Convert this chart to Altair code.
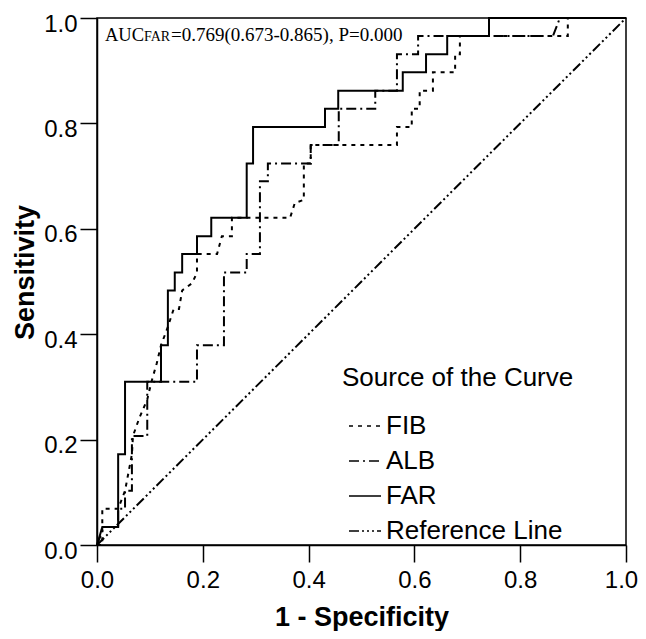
import altair as alt
import pandas as pd

# ---- data ----
series = ["FIB", "ALB", "FAR", "Reference Line"]

fib_x = [0, 0.01, 0.01, 0.04, 0.053, 0.066, 0.068, 0.08, 0.095, 0.103,
         0.113, 0.121, 0.134, 0.145, 0.155, 0.161, 0.18, 0.189, 0.189, 0.227,
         0.236, 0.255, 0.255, 0.365, 0.374, 0.391, 0.391, 0.404, 0.404, 0.567,
         0.567, 0.595, 0.595, 0.61, 0.61, 0.635, 0.635, 0.677, 0.677, 0.686,
         0.686, 0.89, 0.89, 1.0]
fib_y = [0, 0, 0.069, 0.069, 0.103, 0.172, 0.207, 0.241, 0.276, 0.31,
         0.345, 0.379, 0.414, 0.448, 0.448, 0.483, 0.497, 0.517, 0.552, 0.552,
         0.586, 0.586, 0.621, 0.621, 0.649, 0.655, 0.724, 0.724, 0.759, 0.759,
         0.793, 0.793, 0.828, 0.828, 0.862, 0.862, 0.897, 0.897, 0.931, 0.931,
         0.966, 0.966, 1.0, 1.0]

alb_x = [0, 0.013, 0.04, 0.04, 0.053, 0.053, 0.066, 0.066, 0.095, 0.095,
         0.189, 0.189, 0.24, 0.24, 0.283, 0.283, 0.308, 0.308, 0.323, 0.323,
         0.404, 0.404, 0.457, 0.457, 0.526, 0.526, 0.567, 0.567, 0.607, 0.607,
         0.862, 0.875, 1.0]
alb_y = [0, 0.034, 0.034, 0.069, 0.069, 0.103, 0.103, 0.207, 0.207, 0.31,
         0.31, 0.379, 0.379, 0.517, 0.517, 0.552, 0.552, 0.69, 0.69, 0.724,
         0.724, 0.759, 0.759, 0.828, 0.828, 0.862, 0.862, 0.931, 0.931, 0.966,
         0.966, 1.0, 1.0]

far_x = [0, 0.01, 0.04, 0.04, 0.053, 0.053, 0.121, 0.121, 0.134, 0.134,
         0.147, 0.147, 0.161, 0.161, 0.189, 0.189, 0.216, 0.216, 0.283, 0.283,
         0.295, 0.295, 0.431, 0.431, 0.456, 0.456, 0.578, 0.578, 0.622, 0.622,
         0.662, 0.662, 0.741, 0.741, 1.0]
far_y = [0, 0.034, 0.034, 0.172, 0.172, 0.31, 0.31, 0.379, 0.379, 0.483,
         0.483, 0.517, 0.517, 0.552, 0.552, 0.586, 0.586, 0.621, 0.621, 0.724,
         0.724, 0.793, 0.793, 0.828, 0.828, 0.862, 0.862, 0.897, 0.897, 0.931,
         0.931, 0.966, 0.966, 1.0, 1.0]

ref_x = [0, 1]
ref_y = [0, 1]

tick_values = [0.0, 0.2, 0.4, 0.6, 0.8, 1.0]

auc_prefix = "AUC"
auc_sub = "FAR"
auc_rest = "=0.769(0.673-0.865), P=0.000"

# ---- build table ----
rows = []
for name, xs, ys in [("FIB", fib_x, fib_y), ("ALB", alb_x, alb_y),
                     ("FAR", far_x, far_y), ("Reference Line", ref_x, ref_y)]:
    for i, (a, b) in enumerate(zip(xs, ys)):
        rows.append({"curve": name, "fx": a, "fy": b, "idx": i})
df = pd.DataFrame(rows)

dash_range = [[4, 5], [10, 4, 2, 4], [1, 0], [10, 3, 2, 3, 2, 3, 2, 3]]

xscale = alt.Scale(domain=[0, 1], nice=False, zero=False)
yscale = alt.Scale(domain=[0, 1], nice=False, zero=False)

lines = alt.Chart(df).mark_line(color="black", strokeWidth=2).encode(
    x=alt.X("fx:Q", scale=xscale,
            axis=alt.Axis(values=tick_values, format=".1f", title="1 - Specificity",
                          tickSize=17, labelPadding=6, titlePadding=12,
                          labelFlush=False,
                          labelOffset=alt.expr("datum.value == 1 ? -5 : 0"))),
    y=alt.Y("fy:Q", scale=yscale,
            axis=alt.Axis(values=tick_values, format=".1f", title="Sensitivity",
                          tickSize=17, labelPadding=3, labelOffset=6, titlePadding=4,
                          labelFlush=False, titleY=254)),
    strokeDash=alt.StrokeDash(
        "curve:N",
        scale=alt.Scale(domain=series, range=dash_range),
        legend=alt.Legend(title="Source of the Curve", orient="none",
                          legendX=245, legendY=347, symbolType="stroke",
                          symbolSize=1024, symbolStrokeWidth=1.5,
                          symbolStrokeColor="black", symbolOffset=6,
                          labelOffset=4, rowPadding=5, titlePadding=18,
                          padding=0, labelLimit=400, titleLimit=400),
    ),
    order="idx:Q",
)

base_text = dict(align="left", baseline="alphabetic", font="Liberation Serif", color="black")
t1 = alt.Chart().mark_text(fontSize=18.5, **base_text).encode(
    x=alt.datum(0.015), y=alt.datum(0.957), text=alt.value(auc_prefix))
t2 = alt.Chart().mark_text(fontSize=14, dx=39, **base_text).encode(
    x=alt.datum(0.015), y=alt.datum(0.957), text=alt.value(auc_sub))
t3 = alt.Chart().mark_text(fontSize=19, dx=66, **base_text).encode(
    x=alt.datum(0.015), y=alt.datum(0.957), text=alt.value(auc_rest))

chart = alt.layer(lines, t1, t2, t3).properties(
    width=529, height=527,
    autosize=alt.AutoSizeParams(type="none"),
    padding={"left": 89, "top": 10, "right": 12, "bottom": 86},
).configure_view(
    stroke="black", strokeWidth=1.5
).configure_axis(
    grid=False, domainColor="black", domainWidth=1.5, tickColor="black", tickWidth=1.5,
    labelColor="black", titleColor="black", labelFont="Liberation Sans",
    titleFont="Liberation Sans", labelFontSize=24, titleFontSize=27,
    titleFontWeight="bold",
).configure_legend(
    titleFont="Liberation Sans", labelFont="Liberation Sans", titleFontSize=26,
    labelFontSize=26, titleFontWeight="normal", titleColor="black", labelColor="black",
)

chart.save("out.html", embed_options={"renderer": "svg", "actions": False})
